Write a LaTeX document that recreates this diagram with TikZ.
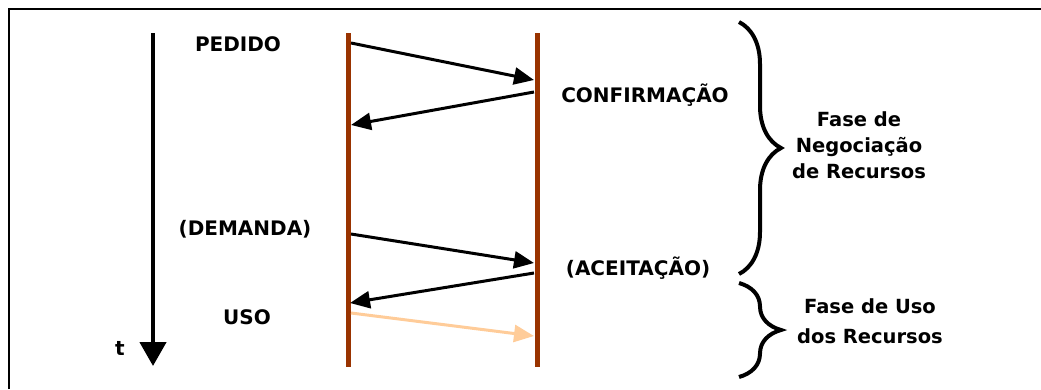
\documentclass[tikz,border=0pt]{standalone}
\usepackage{fontspec}
\setmainfont{DejaVu Sans}
\usetikzlibrary{arrows.meta,decorations.pathreplacing}
\definecolor{life}{HTML}{993300}
\definecolor{peach}{HTML}{FFCC99}
\begin{document}
\begin{tikzpicture}[x=1pt,y=-1pt,
  lbl/.style={font=\fontsize{20}{24}\selectfont\bfseries, inner sep=0pt},
  phase/.style={font=\fontsize{19.5}{26}\selectfont\bfseries, inner sep=0pt, align=center},
  lifeline/.style={draw=life, line width=5pt},
  msg/.style={line width=3pt, -{Triangle[length=20pt,width=17pt]}},
  usemsg/.style={draw=peach, line width=3pt, -{Triangle[length=20pt,width=17pt,fill=peach]}},
  bracepath/.style={line width=4pt, decorate, decoration={brace, amplitude=42pt, aspect=0.5}}]
\useasboundingbox (0,0) rectangle (1041,389);
% frame (top and left edges)
\draw[line width=2.5pt] (9,389) -- (9,9) -- (1041,9);
% time axis
\coordinate (t0) at (153,33);
\coordinate (t1) at (153,366);
\draw[line width=4.5pt, -{Triangle[length=24pt,width=26pt]}] (t0) -- (t1);
\node[lbl] (tlbl) at (120,348) {t};
% lifelines
\coordinate (L0) at (348,33);
\coordinate (L1) at (348,367);
\coordinate (R0) at (537,33);
\coordinate (R1) at (537,367);
\draw[lifeline] (L0) -- (L1);
\draw[lifeline] (R0) -- (R1);
% message points
\coordinate (m1s) at (351,43);
\coordinate (m1e) at (534,80);
\coordinate (m2s) at (534,92);
\coordinate (m2e) at (351,125);
\coordinate (m3s) at (351,234);
\coordinate (m3e) at (534,263);
\coordinate (m4s) at (534,273);
\coordinate (m4e) at (350,303);
\coordinate (m5s) at (351,313);
\coordinate (m5e) at (534,336);
\draw[msg] (m1s) -- (m1e);
\draw[msg] (m2s) -- (m2e);
\draw[msg] (m3s) -- (m3e);
\draw[msg] (m4s) -- (m4e);
\draw[usemsg] (m5s) -- (m5e);
% labels
\node[lbl] (pedido) at (238,44) {PEDIDO};
\node[lbl] (conf) at (645,95) {CONFIRMAÇÃO};
\node[lbl] (dem) at (245,229) {(DEMANDA)};
\node[lbl] (acei) at (638,268) {(ACEITAÇÃO)};
\node[lbl] (uso) at (247,317) {USO};
% braces
\coordinate (b1s) at (739,22);
\coordinate (b1e) at (739,274);
\coordinate (b2s) at (739,283);
\coordinate (b2e) at (739,377);
\draw[bracepath] (b1s) -- (b1e);
\draw[bracepath] (b2s) -- (b2e);
\node[phase] (neg) at (859,145) {Fase de\\Negociação\\de Recursos};
\node[phase, font=\fontsize{19.5}{30}\selectfont\bfseries] (usof) at (870,321) {Fase de Uso\\dos Recursos};
\end{tikzpicture}
\end{document}
